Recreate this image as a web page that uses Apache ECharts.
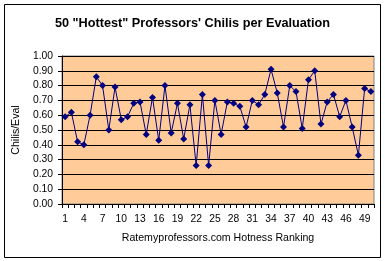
<!DOCTYPE html>
<html><head><meta charset="utf-8">
<script src="https://cdn.jsdelivr.net/npm/echarts@6/dist/echarts.min.js"></script>
<style>html,body{margin:0;padding:0;background:#fff}#c{width:385px;height:261px}</style>
</head><body><div id="c"></div>
<script>
const titleText = '50 "Hottest" Professors\' Chilis per Evaluation';
const xName = 'Ratemyprofessors.com Hotness Ranking';
const yName = 'Chilis/Eval';
const categories = [];
for (let i = 1; i <= 50; i++) categories.push(String(i));
const chilisPerEval = [
  0.59, 0.62, 0.42, 0.40, 0.60, 0.86, 0.80, 0.50, 0.79, 0.57,
  0.59, 0.68, 0.69, 0.47, 0.72, 0.43, 0.80, 0.48, 0.68, 0.44,
  0.67, 0.26, 0.74, 0.26, 0.70, 0.47, 0.69, 0.68, 0.66, 0.52,
  0.70, 0.67, 0.74, 0.91, 0.75, 0.52, 0.80, 0.76, 0.51, 0.84,
  0.90, 0.54, 0.69, 0.74, 0.59, 0.70, 0.52, 0.33, 0.78, 0.76
];
const font = '"Liberation Sans", Arial, sans-serif';
const chart = echarts.init(document.getElementById('c'), null, {renderer: 'canvas'});
chart.setOption({
  backgroundColor: '#ffffff',
  animation: false,
  title: {
    text: titleText, left: 'center', top: 12,
    textStyle: {fontFamily: font, fontSize: 12.7, fontWeight: 'bold', color: '#000'}
  },
  graphic: [{
    type: 'rect', shape: {x: 4.5, y: 4.5, width: 376, height: 253},
    style: {fill: 'none', stroke: '#000', lineWidth: 1}, silent: true, z: 100
  }],
  grid: {
    left: 62, right: 11, top: 56, bottom: 57, show: true,
    backgroundColor: '#FFCC99', borderColor: '#808080', borderWidth: 1
  },
  xAxis: {
    type: 'category', data: categories, boundaryGap: true,
    name: xName, nameLocation: 'middle', nameGap: 29,
    nameTextStyle: {fontFamily: font, fontSize: 10.6, color: '#000'},
    axisLine: {lineStyle: {color: '#000', width: 1}},
    axisTick: {show: true, interval: 0, length: 4, lineStyle: {color: '#000'}},
    axisLabel: {interval: 2, margin: 10, fontFamily: font, fontSize: 10.3, color: '#000'},
    splitLine: {show: false}
  },
  yAxis: {
    type: 'value', min: 0, max: 1, interval: 0.1,
    name: yName, nameLocation: 'middle', nameGap: 31, nameRotate: 90,
    nameTextStyle: {fontFamily: font, fontSize: 10.6, color: '#000'},
    axisLine: {show: true, lineStyle: {color: '#000', width: 1}},
    axisTick: {show: true, length: 4, lineStyle: {color: '#000'}},
    axisLabel: {margin: 9, fontFamily: font, fontSize: 10.3, color: '#000',
      formatter: v => v.toFixed(2)},
    splitLine: {show: true, lineStyle: {color: '#000', width: 1}}
  },
  series: [{
    type: 'line', data: chilisPerEval,
    symbol: 'diamond', symbolSize: 7, showAllSymbol: true,
    lineStyle: {color: '#000080', width: 1},
    itemStyle: {color: '#000080'}
  }]
});
</script></body></html>
